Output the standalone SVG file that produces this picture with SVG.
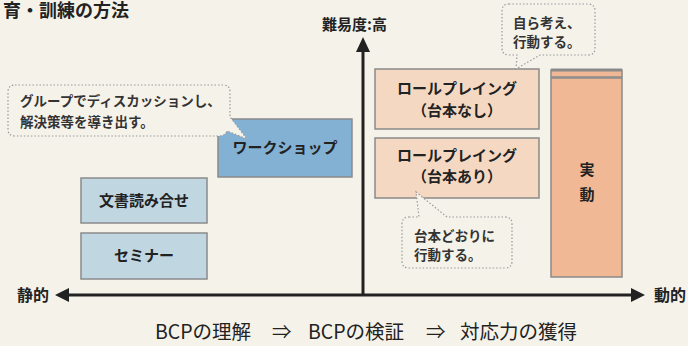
<svg xmlns="http://www.w3.org/2000/svg" width="688" height="346" viewBox="0 0 688 346">
<style>
text{font-family:"Noto Sans CJK JP","Liberation Sans",sans-serif;fill:#222}
.b{font-weight:bold}
.box{stroke:#8a8a8a;stroke-width:1.5}
.call{fill:#f5f2ea;stroke:#999;stroke-width:1.2;stroke-dasharray:1.5 2}
.ct{font-size:13.5px;fill:#333}
.bt{font-size:15px;font-weight:bold;text-anchor:middle}
.ax{stroke:#222;stroke-width:3;fill:none}
.ft{font-size:19.5px}
</style>
<rect x="0" y="0" width="688" height="346" fill="#f5f2ea"/>
<text x="3" y="17" class="b" font-size="18">育・訓練の方法</text>

<g id="connectors">
<line class="ax" x1="66" y1="295" x2="634" y2="295"/>
<polygon points="55,295 69,288 69,302" fill="#222"/>
<polygon points="645,295 631,288 631,302" fill="#222"/>
<line class="ax" x1="363" y1="295" x2="363" y2="50"/>
<polygon points="363,37 356,52 370,52" fill="#222"/>
</g>

<g id="axis-labels">
<text x="322" y="30" class="b" font-size="15">難易度:高</text>
<text x="17" y="301" class="b" font-size="16">静的</text>
<text x="654" y="301" class="b" font-size="16">動的</text>
</g>

<g id="seminar">
<rect class="box" x="81" y="233" width="126" height="46" fill="#c0d6e1"/>
<text class="bt" x="144" y="261">セミナー</text>
</g>
<g id="bunsho">
<rect class="box" x="81" y="178" width="126" height="45" fill="#c0d6e1"/>
<text class="bt" x="144" y="206" font-size="16">文書読み合せ</text>
</g>
<g id="workshop">
<rect class="box" x="218" y="119" width="134" height="58" fill="#82b1d4"/>
<text class="bt" x="285" y="153">ワークショップ</text>
</g>
<g id="roleplay-nashi">
<rect class="box" x="375" y="69" width="164" height="60" fill="#f5d8c2"/>
<text class="bt" x="457" y="94" font-size="16">ロールプレイング</text>
<text class="bt" x="457" y="116">（台本なし）</text>
</g>
<g id="roleplay-ari">
<rect class="box" x="375" y="138" width="164" height="60" fill="#f5d8c2"/>
<text class="bt" x="457" y="161" font-size="16">ロールプレイング</text>
<text class="bt" x="457" y="182" font-size="13">（台本あり）</text>
</g>
<g id="jitsudo">
<rect class="box" x="551" y="70" width="71" height="7" fill="#f0b894"/>
<line x1="551" y1="70" x2="622" y2="70" stroke="#8a8a8a" stroke-width="3"/>
<rect class="box" x="551" y="78" width="71" height="199" fill="#f0b894"/>
<text class="bt" x="587" y="175" font-size="18">実</text>
<text class="bt" x="587" y="200" font-size="18">動</text>
</g>

<g id="callout-workshop">
<path class="call" d="M15,85 H223 Q230,85 230,92 V117 L247,139 L227,131 Q225,136 219,136 H15 Q8,136 8,129 V92 Q8,85 15,85 Z"/>
<text class="ct b" x="20" y="106">グループでディスカッションし、</text>
<text class="ct b" x="20" y="127">解決策等を導き出す。</text>
</g>
<g id="callout-jiko">
<path class="call" d="M509,4 H588 Q595,4 595,11 V48 Q595,55 588,55 H540 L516,69 L517,55 H509 Q502,55 502,48 V11 Q502,4 509,4 Z"/>
<text class="ct b" x="513" y="28">自ら考え、</text>
<text class="ct b" x="513" y="47">行動する。</text>
</g>
<g id="callout-daihon">
<path class="call" d="M409,217 H419 L416,192 L447,217 H505 Q512,217 512,224 V261 Q512,268 505,268 H409 Q402,268 402,261 V224 Q402,217 409,217 Z"/>
<text class="ct b" x="414" y="241">台本どおりに</text>
<text class="ct b" x="414" y="260">行動する。</text>
</g>

<g id="footer">
<text class="ft" x="155" y="339">BCPの理解</text>
<text class="ft" x="272" y="339">⇒</text>
<text class="ft" x="308" y="339">BCPの検証</text>
<text class="ft" x="426" y="339">⇒</text>
<text class="ft" x="460" y="339">対応力の獲得</text>
</g>
</svg>
